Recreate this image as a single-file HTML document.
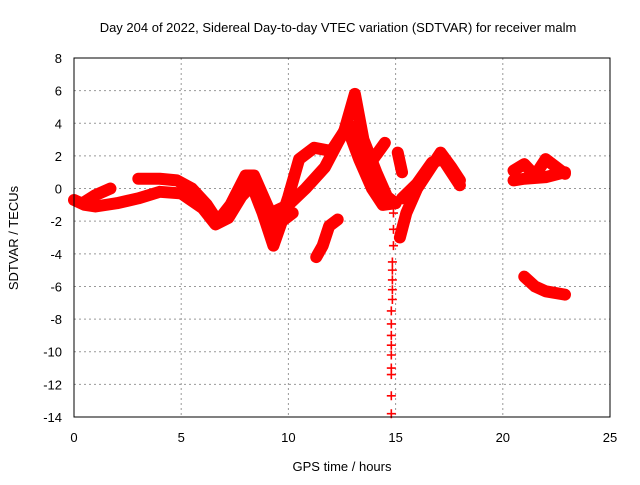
<!DOCTYPE html>
<html><head><meta charset="utf-8"><style>
body{margin:0;background:#fff;}
svg text{font-family:"Liberation Sans",sans-serif;font-size:13px;fill:#000;}
</style></head><body>
<svg id="c" width="640" height="480" xmlns="http://www.w3.org/2000/svg">
<text x="338" y="32" text-anchor="middle">Day 204 of 2022, Sidereal Day-to-day VTEC variation (SDTVAR) for receiver malm</text>
<text x="342" y="471" text-anchor="middle">GPS time / hours</text>
<text transform="translate(18,238) rotate(-90)" text-anchor="middle">SDTVAR / TECUs</text>
<g id="grid"></g><g id="series"></g>
<rect x="74" y="58" width="536" height="359" fill="none" stroke="#000"/>
</svg>
<script>
const xTicks=[0,5,10,15,20,25];
const yTicks=[8,6,4,2,0,-2,-4,-6,-8,-10,-12,-14];
const trackA=[[0,-0.7],[0.5,-1],[1,-1.1],[2,-0.9],[3,-0.6],[4,-0.2],[5,-0.3],[6,-1.2],[6.6,-2.2],[7.2,-1.8],[7.8,-0.5],[8.3,0.2],[8.8,-1.5],[9.3,-3.5],[9.7,-2],[10.2,-1.5]];
const trackA2=[[0.4,-0.9],[1,-0.4],[1.7,0]];
const trackB=[[3,0.6],[4,0.6],[4.8,0.5],[5.5,0],[6.2,-1],[6.7,-2],[7.3,-1],[8,0.8],[8.4,0.8],[9,-1],[9.5,-2.5],[10,-0.5],[10.5,1.8],[11.2,2.5],[12,2.3],[12.6,3.5],[13.1,5.8],[13.5,3],[14.1,1],[14.6,-0.5],[15,-0.9]];
const trackC=[[9.2,-1.5],[10,-1],[10.8,0],[11.7,1.3],[12.3,2.8],[12.8,4],[13.3,2.5],[13.9,1.7],[14.5,2.8]];
const trackD=[[12.9,3.2],[13.3,1.8],[13.9,0],[14.4,-1],[15,-0.9]];
const trackE=[[11.3,-4.2],[11.6,-3.5],[11.9,-2.3],[12.3,-1.9]];
const trackF=[[15.2,-3],[15.5,-1.5],[16,0],[16.6,1.2],[17.1,2.2],[17.6,1.3],[18,0.5]];
const trackG=[[15.3,-0.6],[16,0.3],[16.7,1.6],[17.2,1.8],[18,0.2]];
const trackH=[[15.1,2.2],[15.3,1]];
const trackI=[[20.5,1.1],[21,1.5],[21.5,0.8],[22,1.8],[22.5,1.3],[22.9,0.9]];
const trackJ=[[20.5,0.5],[21,0.6],[22,0.7],[22.9,1]];
const trackK=[[21,-5.4],[21.5,-6],[22,-6.3],[22.9,-6.5]];
const spike=[[14.9,-1.5],[14.9,-2.5],[14.9,-3.5],[14.85,-4.5],[14.85,-5],[14.85,-5.6],[14.85,-6.2],[14.85,-6.8],[14.8,-7.5],[14.8,-8.3],[14.8,-9],[14.8,-9.6],[14.8,-10.2],[14.8,-11],[14.8,-11.4],[14.8,-12.7],[14.8,-13.8]];
const X=h=>74+h*(536/25), Y=v=>58+(8-v)*(359/22);
const NS='http://www.w3.org/2000/svg';
const g=document.getElementById('grid'), s=document.getElementById('series');
function mk(t,a,p){const e=document.createElementNS(NS,t);for(const k in a)e.setAttribute(k,a[k]);p.appendChild(e);return e;}
xTicks.forEach(t=>{const x=X(t);
 if(t>0&&t<25){const l=mk('line',{x1:x,x2:x,y1:58,y2:417,stroke:'#999','stroke-dasharray':'2,3'},g);}
 const tx=mk('text',{x:x,y:442,'text-anchor':'middle'},g);tx.textContent=t;
 
 });
yTicks.forEach(t=>{const y=Y(t);
 if(t>-14&&t<8){const l=mk('line',{x1:74,x2:610,y1:y,y2:y,stroke:'#999','stroke-dasharray':'2,3'},g);}
 const tx=mk('text',{x:62,y:y+5,'text-anchor':'end'},g);tx.textContent=t;
 
 });
function track(arr,name){
 const p=mk('polyline',{points:arr.map(d=>X(d[0])+','+Y(d[1])).join(' '),fill:'none',stroke:'#f00','stroke-width':12,'stroke-linejoin':'round','stroke-linecap':'round'},s);
 
 
 markers(arr);}
function markers(arr){arr.forEach(d=>{const x=X(d[0]),y=Y(d[1]);
 const m=mk('path',{d:`M${x-4.5},${y}H${x+4.5}M${x},${y-4.5}V${y+4.5}`,stroke:'#f00','stroke-width':1.6},s);
 
 });}
[[trackA,'track-a'],[trackA2,'track-a2'],[trackB,'track-b'],[trackC,'track-c'],[trackD,'track-d'],[trackE,'track-e'],[trackF,'track-f'],[trackG,'track-g'],[trackH,'track-h'],[trackI,'track-i'],[trackJ,'track-j'],[trackK,'track-k']].forEach(t=>track(t[0],t[1]));
markers(spike);
</script>
</body></html>
